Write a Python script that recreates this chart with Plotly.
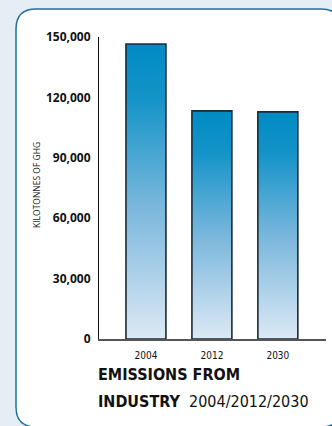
import plotly.graph_objects as go

categories = ["2004", "2012", "2030"]
emissions = [146500, 113300, 112800]
y_ticks = [0, 30000, 60000, 90000, 120000, 150000]

W, H = 332, 426
L, R, T, B = 99, 6, 37, 87
pw, ph = W - L - R, H - T - B

def px_x(p):
    return (p - L) / pw

def px_y(p):
    return (H - B - p) / ph

COND = "DejaVu Sans Condensed"
half = 0.303
fig = go.Figure()
for i, (c, v) in enumerate(zip(categories, emissions)):
    fig.add_trace(go.Scatter(
        x=[i - half, i + half, i + half, i - half, i - half],
        y=[0, 0, v, v, 0],
        mode="lines",
        fill="toself",
        fillgradient=dict(type="vertical",
                          colorscale=[[0, "#dce9f5"], [0.45, "#7ab7dc"],
                                      [0.82, "#1393c8"], [1, "#008bc4"]]),
        line=dict(color="#1c2a33", width=1.6),
        hoverinfo="skip",
        showlegend=False,
        name=c,
    ))

# rounded panel (left, top, bottom edges; right edge runs off the page)
x0, x1 = px_x(16), px_x(341)
xr = px_x(420)
y0, y1 = px_y(427), px_y(9)
rx, ry = 20 / pw, 20 / ph
path = (f"M {xr},{y0} L {x0+rx},{y0} Q {x0},{y0} {x0},{y0+ry} "
        f"L {x0},{y1-ry} Q {x0},{y1} {x0+rx},{y1} "
        f"L {x1-rx},{y1} Q {x1},{y1} {x1},{y1-ry} L {x1},{y0+ry} "
        f"Q {x1},{y0} {x1-rx},{y0}")

fig.update_layout(
    width=W, height=H,
    margin=dict(l=L, r=R, t=T, b=B),
    paper_bgcolor="#e5eef4",
    plot_bgcolor="rgba(0,0,0,0)",
    shapes=[dict(type="path", xref="paper", yref="paper", path=path,
                 fillcolor="white", line=dict(color="#1f6f9e", width=1.5),
                 layer="below")],
    xaxis=dict(range=[-0.712, 2.73], tickvals=list(range(len(categories))),
               ticktext=categories, showgrid=False, zeroline=False,
               showline=True, linecolor="#555555", linewidth=1.5,
               ticks="", ticklabelstandoff=6,
               tickfont=dict(family=COND, size=10, color="#111")),
    yaxis=dict(range=[0, 150000], tickvals=y_ticks,
               ticktext=[f"<b>{t:,}</b>" for t in y_ticks],
               showgrid=False, zeroline=False, showline=True,
               linecolor="#111", linewidth=1, ticks="", ticklabelstandoff=5,
               tickfont=dict(family="Open Sans", size=12, color="#111")),
    annotations=[
        dict(text="KILOTONNES OF GHG", xref="paper", yref="paper",
             x=px_x(37), y=px_y(185), textangle=-90, showarrow=False,
             xanchor="center", yanchor="middle",
             font=dict(family="Open Sans", size=8.5, color="#222")),
        dict(text="<b>EMISSIONS FROM</b>", xref="paper", yref="paper",
             x=px_x(96), y=px_y(374), showarrow=False,
             xanchor="left", yanchor="middle",
             font=dict(family=COND, size=16, color="#111")),
        dict(text="<b>INDUSTRY</b>  2004/2012/2030", xref="paper", yref="paper",
             x=px_x(96), y=px_y(401), showarrow=False,
             xanchor="left", yanchor="middle",
             font=dict(family=COND, size=16, color="#111")),
    ],
)

fig.write_html("out.html")
